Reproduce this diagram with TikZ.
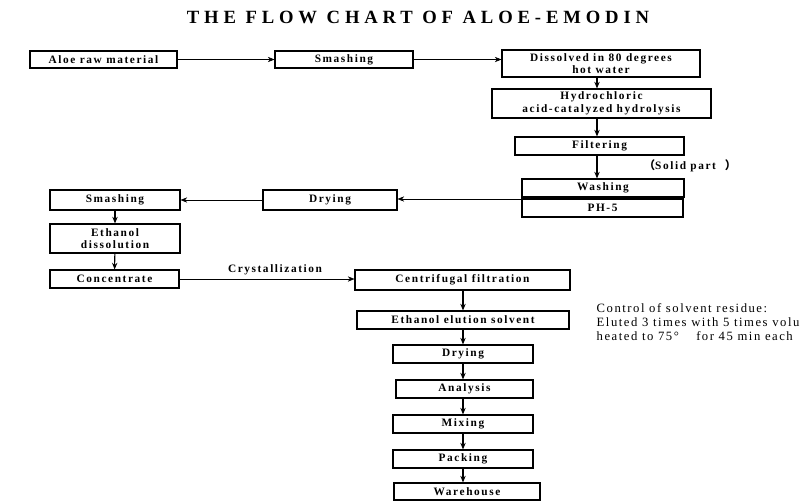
\documentclass[tikz,border=0pt]{standalone}
\usepackage{fontspec}
\setmainfont{Liberation Serif}
\newfontfamily\cjk{Noto Sans CJK SC}
\usetikzlibrary{arrows.meta}
\begin{document}
\begin{tikzpicture}[x=0.75pt,y=-0.75pt,
  box/.style={draw,thick,font=\bfseries\fontsize{8.5}{9.5}\selectfont\addfontfeatures{LetterSpace=14},align=center,inner sep=0pt},
  arr/.style={-{Stealth[length=5pt,width=4pt]},thick},
  arrt/.style={-{Stealth[length=5pt,width=4pt]}}]
\useasboundingbox (0,0) rectangle (800,500);
\clip (0,0) rectangle (800,500);
\newcommand\bx[6]{\node[box,minimum width=(#4-#2)*0.75pt,minimum height=(#5-#3)*0.75pt] (#1) at ({(#2+#4)/2},{(#3+#5)/2}) {#6};}
\node[font=\bfseries\fontsize{14}{15}\selectfont\addfontfeatures{LetterSpace=26}] (title) at (418,17) {THE FLOW CHART OF ALOE-EMODIN};
\bx{aloe}{30}{51}{177}{68}{Aloe raw material}
\bx{sm1}{275}{51}{413}{68}{Smashing}
\bx{dis}{502}{50}{700}{77}{Dissolved in 80 degrees\\hot water}
\bx{hyd}{492}{89}{711}{118}{Hydrochloric\\acid-catalyzed hydrolysis}
\bx{fil}{515}{137}{684}{155}{Filtering}
\bx{was}{522}{179}{684}{197}{Washing}
\bx{ph}{522}{199}{683}{217}{PH-5}
\bx{dry1}{263}{190}{397}{210}{Drying}
\bx{sm2}{50}{190}{180}{210}{Smashing}
\bx{eth}{50}{224}{180}{253}{Ethanol\\dissolution}
\bx{con}{50}{270}{179}{288}{Concentrate}
\bx{cen}{355}{270}{570}{290}{Centrifugal filtration}
\bx{elu}{357}{311}{569}{329}{Ethanol elution solvent}
\bx{dry2}{393}{345}{533}{363}{Drying}
\bx{ana}{396}{380}{533}{398}{Analysis}
\bx{mix}{393}{415}{533}{433}{Mixing}
\bx{pac}{393}{450}{533}{468}{Packing}
\bx{war}{394}{483}{540}{500}{Warehouse}
\node[font=\bfseries\fontsize{8.5}{9.5}\selectfont\addfontfeatures{LetterSpace=14}] (solid) at (690,166) {{\cjk （}Solid part \ {\cjk ）}};
\node[font=\bfseries\fontsize{8.5}{9.5}\selectfont\addfontfeatures{LetterSpace=14}] (cry) at (275,270) {Crystallization};
\node[font=\fontsize{9.5}{10.5}\selectfont\addfontfeatures{LetterSpace=12},align=left,anchor=north west] (ctl) at (592,299) {Control of solvent residue:\\Eluted 3 times with 5 times volume\\heated to 75°\quad\ for 45 min each};
\coordinate (wl) at (522,199);
\draw[arrt] (wl) -- (wl -| dry1.east);
\draw[arrt] (dry1.west) -- (sm2.east);
\draw[arrt] (aloe) -- (sm1);
\draw[arrt] (sm1.east) -- (sm1.east -| dis.west);
\draw[arr] (dis.south -| 597,0) -- (hyd.north -| 597,0);
\draw[arr] (hyd.south -| 597,0) -- (fil.north -| 597,0);
\draw[arr] (fil.south -| 597,0) -- (was.north -| 597,0);
\draw[arr] (sm2) -- (eth);
\draw[arr] (eth) -- (con);
\draw[arrt] (con.east) -- (con.east -| cen.west);
\draw[arr] (cen.south -| 463,0) -- (elu.north -| 463,0);
\draw[arr] (elu.south -| 463,0) -- (dry2.north -| 463,0);
\draw[arr] (dry2.south -| 463,0) -- (ana.north -| 463,0);
\draw[arr] (ana.south -| 463,0) -- (mix.north -| 463,0);
\draw[arr] (mix.south -| 463,0) -- (pac.north -| 463,0);
\draw[arr] (pac.south -| 463,0) -- (war.north -| 463,0);
\end{tikzpicture}
\end{document}
